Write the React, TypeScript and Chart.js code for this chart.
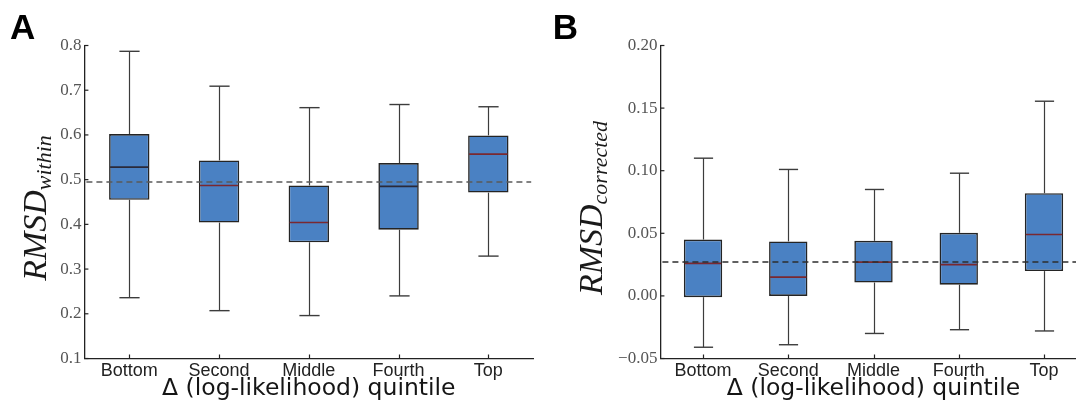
import React, { useEffect, useRef } from "react";
import { Chart, registerables } from "chart.js";

Chart.register(...registerables);

// ---------- data ----------
const categories = ["Bottom", "Second", "Middle", "Fourth", "Top"];

// Panel A: RMSD within
const withinLower = [0.236, 0.207, 0.196, 0.240, 0.329];
const withinQ1 = [0.455, 0.404, 0.360, 0.388, 0.471];
const withinMedian = [0.528, 0.487, 0.404, 0.485, 0.557];
const withinQ3 = [0.602, 0.543, 0.487, 0.537, 0.599];
const withinUpper = [0.787, 0.709, 0.661, 0.668, 0.663];
const withinReference = 0.495;
const withinTickMin = 0.1;
const withinTickMax = 0.8;
const withinTickStep = 0.1;

// Panel B: RMSD corrected
const correctedLower = [-0.041, -0.039, -0.030, -0.027, -0.028];
const correctedQ1 = [-0.001, 0.0, 0.0107, 0.009, 0.0198];
const correctedMedian = [0.026, 0.015, 0.027, 0.025, 0.049];
const correctedQ3 = [0.045, 0.0435, 0.044, 0.0504, 0.082];
const correctedUpper = [0.110, 0.101, 0.085, 0.098, 0.1555];
const correctedReference = 0.027;
const correctedTickMin = -0.05;
const correctedTickMax = 0.2;
const correctedTickStep = 0.05;

// ---------- styles ----------
const BOX_FILL = "#4a81c3";
const BOX_EDGE = "#242424";
const WHISKER = "#3c3c3c";
const MEDIAN_RED = "#7a2830";
const MEDIAN_DARK = "#2a2a3a";
const medianColorsA = [MEDIAN_DARK, MEDIAN_RED, MEDIAN_RED, MEDIAN_DARK, MEDIAN_RED];
const medianColorsB = [MEDIAN_RED, MEDIAN_RED, MEDIAN_RED, MEDIAN_RED, MEDIAN_RED];

type PanelSpec = {
  letter: string;
  sub: string;
  lower: number[];
  q1: number[];
  median: number[];
  q3: number[];
  upper: number[];
  reference: number;
  min: number;
  max: number;
  step: number;
  decimals: number;
  medianColors: string[];
  dashColor: string;
  canvasLeft: number;
  canvasWidth: number;
  yAxisWidth: number;
  padRight: number;
  titleX: number;
  letterX: number;
};

function line(ctx: CanvasRenderingContext2D, x1: number, y1: number, x2: number, y2: number) {
  ctx.beginPath();
  ctx.moveTo(x1, y1);
  ctx.lineTo(x2, y2);
  ctx.stroke();
}

function makePlugin(spec: PanelSpec) {
  return {
    id: "boxExtras",
    afterDatasetsDraw(chart: any) {
      const ctx: CanvasRenderingContext2D = chart.ctx;
      const ys = chart.scales.y;
      const area = chart.chartArea;
      const meta = chart.getDatasetMeta(0);
      ctx.save();
      spec.lower.forEach((lo, i) => {
        const bar = meta.data[i];
        const cx = Math.round(bar.x) + 0.5;
        const w = bar.width;
        const capHalf = w / 4;
        ctx.strokeStyle = WHISKER;
        ctx.lineWidth = 1.2;
        const pUp = ys.getPixelForValue(spec.upper[i]);
        const pQ3 = ys.getPixelForValue(spec.q3[i]);
        const pQ1 = ys.getPixelForValue(spec.q1[i]);
        const pLo = ys.getPixelForValue(lo);
        line(ctx, cx, pQ3, cx, pUp);
        line(ctx, cx, pQ1, cx, pLo);
        ctx.lineWidth = 1.4;
        line(ctx, cx - capHalf, pUp, cx + capHalf, pUp);
        line(ctx, cx - capHalf, pLo, cx + capHalf, pLo);
        // median
        ctx.strokeStyle = spec.medianColors[i];
        ctx.lineWidth = 1.6;
        const pMed = ys.getPixelForValue(spec.median[i]);
        line(ctx, bar.x - w / 2 + 1, pMed, bar.x + w / 2 - 1, pMed);
      });
      // reference dashed line
      ctx.strokeStyle = spec.dashColor;
      ctx.lineWidth = 1.5;
      ctx.setLineDash([6, 4]);
      const pRef = ys.getPixelForValue(spec.reference);
      line(ctx, area.left + 2, pRef, area.right - 2, pRef);
      ctx.setLineDash([]);
      ctx.restore();
    },
    afterDraw(chart: any) {
      const ctx: CanvasRenderingContext2D = chart.ctx;
      const ys = chart.scales.y;
      const xs = chart.scales.x;
      const area = chart.chartArea;
      ctx.save();
      // inward tick marks
      ctx.strokeStyle = "#222";
      ctx.lineWidth = 1.2;
      ys.ticks.forEach((t: any) => {
        const p = ys.getPixelForValue(t.value);
        line(ctx, area.left, p, area.left + 4, p);
      });
      categories.forEach((_, i) => {
        const p = Math.round(xs.getPixelForValue(i)) + 0.5;
        line(ctx, p, area.bottom, p, area.bottom - 4);
      });
      // x title
      ctx.fillStyle = "#151515";
      ctx.font = "23.5px 'DejaVu Sans', sans-serif";
      ctx.textAlign = "center";
      ctx.textBaseline = "alphabetic";
      ctx.fillText("\u0394 (log-likelihood) quintile", (area.left + area.right) / 2, 395);
      // y title: RMSD with italic subscript
      const mainFont = "italic 34px 'Liberation Serif', 'Times New Roman', serif";
      const subFont = "italic 22px 'Liberation Serif', 'Times New Roman', serif";
      ctx.font = mainFont;
      const wMain = ctx.measureText("RMSD").width;
      ctx.font = subFont;
      const wSub = ctx.measureText(spec.sub).width;
      const total = wMain + wSub;
      ctx.translate(spec.titleX, 208);
      ctx.rotate(-Math.PI / 2);
      ctx.textAlign = "left";
      ctx.fillStyle = "#1a1a1a";
      ctx.font = mainFont;
      ctx.fillText("RMSD", -total / 2, 0);
      ctx.font = subFont;
      ctx.fillText(spec.sub, -total / 2 + wMain, 5);
      ctx.restore();
      // panel letter
      ctx.save();
      ctx.fillStyle = "#000";
      ctx.font = "bold 35px 'Liberation Sans', Arial, sans-serif";
      ctx.textAlign = "left";
      ctx.textBaseline = "alphabetic";
      ctx.fillText(spec.letter, spec.letterX, 38.5);
      ctx.restore();
    },
  };
}

function formatTick(v: number, decimals: number) {
  if (Math.abs(v) < 1e-9) return (0).toFixed(decimals);
  const s = Math.abs(v).toFixed(decimals);
  return v < 0 ? "\u2212" + s : s;
}

function BoxPanel({ spec }: { spec: PanelSpec }) {
  const ref = useRef<HTMLCanvasElement>(null);
  useEffect(() => {
    if (!ref.current) return;
    const chart = new Chart(ref.current, {
      type: "bar",
      data: {
        labels: categories,
        datasets: [
          {
            data: spec.q1.map((q, i) => [q, spec.q3[i]]) as any,
            backgroundColor: BOX_FILL,
            borderColor: BOX_EDGE,
            borderWidth: 1.6,
            borderSkipped: false,
            barPercentage: 0.45,
            categoryPercentage: 1,
          },
        ],
      },
      options: {
        animation: false,
        responsive: false,
        maintainAspectRatio: false,
        layout: { padding: { left: 0, top: 45.5, right: spec.padRight, bottom: 0 } },
        plugins: {
          legend: { display: false },
          tooltip: { enabled: false },
          title: { display: false },
        },
        scales: {
          x: {
            type: "category",
            offset: true,
            grid: { display: false, drawTicks: false },
            border: { display: true, color: "#222", width: 1.3 },
            ticks: {
              color: "#222",
              padding: 2,
              font: { family: "'Liberation Sans', Arial, sans-serif", size: 18 },
              maxRotation: 0,
            },
            afterFit: (scale: any) => {
              scale.height = 48.5;
            },
          },
          y: {
            type: "linear",
            min: spec.min,
            max: spec.max,
            grid: { display: false, drawTicks: false },
            border: { display: true, color: "#222", width: 1.3 },
            ticks: {
              stepSize: spec.step,
              color: "#555",
              padding: 3,
              font: { family: "'Liberation Serif', 'Times New Roman', serif", size: 17 },
              callback: (v: any) => formatTick(Number(v), spec.decimals),
            },
            afterFit: (scale: any) => {
              scale.width = spec.yAxisWidth;
            },
          },
        },
      },
      plugins: [makePlugin(spec)],
    } as any);
    return () => chart.destroy();
  }, [spec]);
  return (
    <canvas
      ref={ref}
      width={spec.canvasWidth}
      height={407}
      style={{
        position: "absolute",
        left: spec.canvasLeft,
        top: 0,
        width: spec.canvasWidth,
        height: 407,
        display: "block",
      }}
    />
  );
}

const panelA: PanelSpec = {
  letter: "A",
  sub: "within",
  lower: withinLower,
  q1: withinQ1,
  median: withinMedian,
  q3: withinQ3,
  upper: withinUpper,
  reference: withinReference,
  min: withinTickMin,
  max: withinTickMax,
  step: withinTickStep,
  decimals: 1,
  medianColors: medianColorsA,
  dashColor: "#5a5a5a",
  canvasLeft: 0,
  canvasWidth: 540,
  yAxisWidth: 84.4,
  padRight: 6.8,
  titleX: 46,
  letterX: 10,
};

const panelB: PanelSpec = {
  letter: "B",
  sub: "corrected",
  lower: correctedLower,
  q1: correctedQ1,
  median: correctedMedian,
  q3: correctedQ3,
  upper: correctedUpper,
  reference: correctedReference,
  min: correctedTickMin,
  max: correctedTickMax,
  step: correctedTickStep,
  decimals: 2,
  medianColors: medianColorsB,
  dashColor: "#2e2e2e",
  canvasLeft: 540,
  canvasWidth: 560,
  yAxisWidth: 120.4,
  padRight: 13.4,
  titleX: 62,
  letterX: 12.7,
};

export default function App() {
  return (
    <div
      style={{
        position: "absolute",
        left: 0,
        top: 0,
        width: 1076,
        height: 407,
        overflow: "hidden",
        background: "#fff",
      }}
    >
      <BoxPanel spec={panelA} />
      <BoxPanel spec={panelB} />
    </div>
  );
}
